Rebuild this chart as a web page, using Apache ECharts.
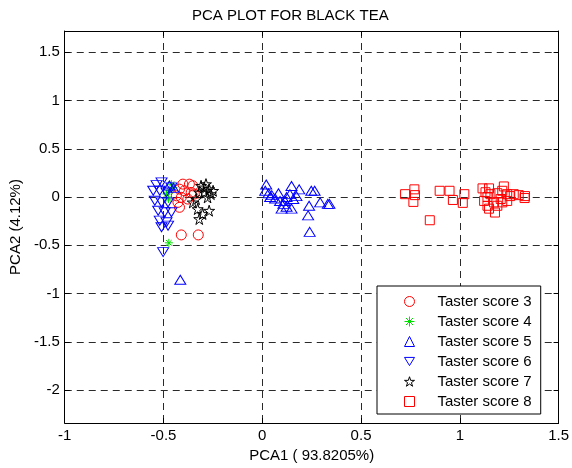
<!DOCTYPE html>
<html>
<head>
<meta charset="utf-8">
<script src="https://cdn.jsdelivr.net/npm/echarts@6/dist/echarts.min.js"></script>
<style>
html, body { margin: 0; padding: 0; background: #fff; }
#chart { width: 572px; height: 468px; }
</style>
</head>
<body>
<div id="chart"></div>
<script>
// Chart texts
const chartTitle = 'PCA PLOT FOR BLACK TEA';
const xAxisName = 'PCA1 ( 93.8205%)';
const yAxisName = 'PCA2 (4.12%)';
const seriesNames = ['Taster score 3', 'Taster score 4', 'Taster score 5',
                     'Taster score 6', 'Taster score 7', 'Taster score 8'];

// Axis ranges and tick step
const xRange = [-1, 1.5];
const yRange = [-2.34, 1.72];
const tickStep = 0.5;

// PCA scores [PC1, PC2] per taster score group
const score3 = [
  [-0.402, 0.134], [-0.369, 0.134], [-0.352, 0.117], [-0.419, 0.082],
  [-0.394, 0.065], [-0.360, 0.048], [-0.410, -0.003], [-0.377, -0.021],
  [-0.427, -0.055], [-0.419, -0.106], [-0.435, 0.013], [-0.344, 0.031],
  [-0.410, -0.392], [-0.324, -0.392]
];
const score4 = [
  [-0.460, 0.134], [-0.469, 0.065], [-0.485, 0.031], [-0.450, 0.100],
  [-0.475, -0.020], [-0.473, -0.474]
];
const score5 = [
  [0.020, 0.130], [0.015, 0.065], [0.032, 0.040], [0.048, 0.020],
  [0.082, 0.040], [0.065, -0.015], [0.090, -0.040], [0.107, -0.070],
  [0.098, -0.120], [0.123, -0.100], [0.148, 0.115], [0.140, 0.030],
  [0.157, -0.020], [0.148, -0.120], [0.187, 0.080], [0.123, 0.000],
  [0.115, -0.040], [0.248, 0.065], [0.265, 0.065], [0.237, -0.090],
  [0.232, -0.190], [0.293, -0.055], [0.332, -0.070], [0.340, -0.070],
  [0.240, -0.360], [0.173, 0.010], [0.040, 0.000],
  [-0.415, -0.856], [-0.470, 0.120], [-0.450, 0.095]
];
const score6 = [
  [-0.510, 0.152], [-0.552, 0.065], [-0.519, 0.065], [-0.485, 0.048],
  [-0.544, -0.038], [-0.510, -0.055], [-0.477, -0.055], [-0.527, -0.141],
  [-0.494, -0.158], [-0.460, -0.158], [-0.519, -0.244], [-0.485, -0.261],
  [-0.510, -0.312], [-0.477, -0.296], [-0.535, 0.124], [-0.460, 0.100],
  [-0.502, -0.570]
];
const score7 = [
  [-0.310, 0.117], [-0.285, 0.134], [-0.269, 0.082], [-0.319, 0.048],
  [-0.294, 0.048], [-0.260, 0.031], [-0.335, -0.021], [-0.277, -0.003],
  [-0.327, -0.124], [-0.302, -0.175], [-0.269, -0.141], [-0.319, -0.227],
  [-0.352, -0.055], [-0.294, 0.100], [-0.249, 0.065]
];
const score8 = [
  [0.723, 0.030], [0.770, 0.080], [0.773, 0.020], [0.765, -0.050],
  [0.848, -0.240], [0.898, 0.065], [0.948, 0.065], [0.965, -0.030],
  [1.023, 0.030], [1.015, -0.060], [1.115, 0.090], [1.148, 0.090],
  [1.130, 0.050], [1.140, 0.000], [1.223, 0.110], [1.190, 0.040],
  [1.207, -0.020], [1.240, 0.030], [1.273, 0.030], [1.298, 0.020],
  [1.328, -0.010], [1.140, -0.090], [1.148, -0.120], [1.178, -0.160],
  [1.173, -0.055], [1.215, -0.055], [1.190, -0.090], [1.240, -0.040],
  [1.155, 0.030], [1.215, 0.065], [1.255, 0.010], [1.123, -0.040],
  [1.330, 0.010]
];

const FONT = '"Liberation Sans", Arial, sans-serif';
const FONT_SIZE = 15;
const NONE = 'rgba(0,0,0,0)';

// Outline marker shapes
const starPath = 'path://M50 0 L61.2 34.5 L97.6 34.5 L68.2 55.9 L79.4 90.5 L50 69.1 L20.6 90.5 L31.8 55.9 L2.4 34.5 L38.8 34.5 Z';
const asteriskPath = 'path://M50 0 L50 100 M0 50 L100 50 M15 15 L85 85 M85 15 L15 85';
const downTrianglePath = 'path://M0 0 L110 0 L55 90 Z';

function markerSeries(name, data, symbol, size, color) {
  return {
    name: name,
    type: 'scatter',
    data: data,
    symbol: symbol,
    symbolSize: size,
    itemStyle: { color: NONE, borderColor: color, borderWidth: 1, opacity: 1 },
    emphasis: { disabled: true }
  };
}

function halfStepLabel(v) {
  const k = v / tickStep;
  if (Math.abs(k - Math.round(k)) > 1e-6) return '';
  return String(Math.round(v * 100) / 100);
}

const baseAxis = {
  type: 'value',
  axisLine: { show: true, onZero: false, lineStyle: { color: '#000', width: 1 } },
  axisTick: { show: true, inside: true, length: 5, lineStyle: { color: '#000' } },
  splitLine: { show: false },
  axisLabel: { show: false }
};

const chart = echarts.init(document.getElementById('chart'), null, { renderer: 'canvas' });

chart.setOption({
  animation: false,
  backgroundColor: '#fff',
  textStyle: { fontFamily: FONT },
  grid: { left: 62, right: 10, top: 31, bottom: 43, containLabel: false },
  graphic: [{
    type: 'text',
    left: 312 - 120,
    top: 8,
    style: {
      text: chartTitle, x: 0, y: 0,
      font: FONT_SIZE + 'px ' + FONT, fill: '#000',
      width: 240, align: 'center'
    },
    silent: true
  }],
  xAxis: [
    Object.assign({}, baseAxis, {
      min: xRange[0], max: xRange[1], interval: tickStep,
      position: 'bottom',
      name: xAxisName, nameLocation: 'middle', nameGap: 25,
      nameTextStyle: { fontSize: FONT_SIZE, color: '#000', fontFamily: FONT },
      axisLabel: { show: true, margin: 5, fontSize: FONT_SIZE, color: '#000', fontFamily: FONT,
                   formatter: halfStepLabel },
      splitLine: { show: true, lineStyle: { color: '#2a2a2a', width: 1, type: [7, 5] } }
    }),
    Object.assign({}, baseAxis, {
      min: xRange[0], max: xRange[1], interval: tickStep, position: 'top'
    })
  ],
  yAxis: [
    Object.assign({}, baseAxis, {
      min: yRange[0], max: yRange[1], splitNumber: 8,
      position: 'left',
      name: yAxisName, nameLocation: 'middle', nameGap: 34, nameRotate: 90,
      nameTextStyle: { fontSize: FONT_SIZE, color: '#000', fontFamily: FONT },
      axisLabel: { show: true, margin: 5, fontSize: FONT_SIZE, color: '#000', fontFamily: FONT,
                   formatter: halfStepLabel, showMinLabel: false, showMaxLabel: false },
      splitLine: { show: true, lineStyle: { color: '#2a2a2a', width: 1, type: [7, 5] } }
    }),
    Object.assign({}, baseAxis, {
      min: yRange[0], max: yRange[1], splitNumber: 8, position: 'right'
    })
  ],
  legend: {
    orient: 'vertical',
    left: 377, top: 286,
    itemWidth: 10, itemHeight: 10, itemGap: 5,
    padding: [8, 9, 5, 27],
    backgroundColor: '#fff',
    borderColor: '#000', borderWidth: 1, borderRadius: 0,
    itemStyle: { borderWidth: 1 },
    textStyle: { fontSize: FONT_SIZE, color: '#000', fontFamily: FONT, lineHeight: 15,
                 padding: [0, 0, 0, 18] },
    selectedMode: false,
    data: seriesNames
  },
  series: [
    markerSeries(seriesNames[0], score3, 'circle', 10, '#ff0000'),
    markerSeries(seriesNames[1], score4, asteriskPath, 8, '#00e000'),
    markerSeries(seriesNames[2], score5, 'triangle', [11, 9], '#0000ff'),
    markerSeries(seriesNames[3], score6, downTrianglePath, [11, 9], '#0000ff'),
    markerSeries(seriesNames[4], score7, starPath, 11, '#000000'),
    markerSeries(seriesNames[5], score8, 'rect', 9, '#ff0000')
  ]
});
</script>
</body>
</html>
